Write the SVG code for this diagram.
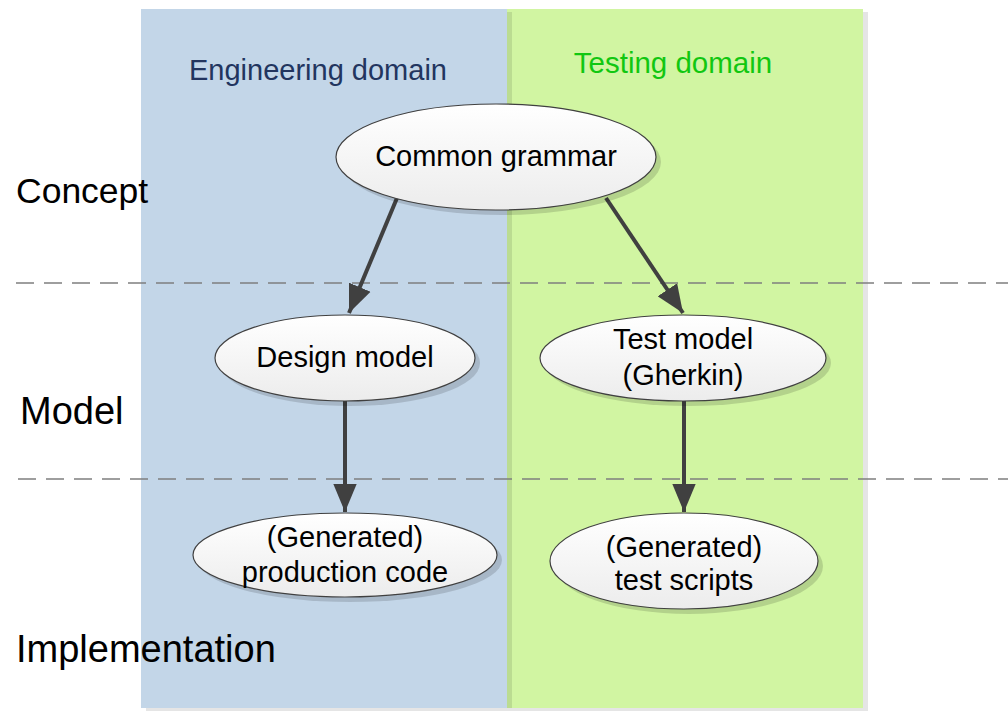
<svg xmlns="http://www.w3.org/2000/svg" width="1008" height="711" viewBox="0 0 1008 711">
  <style>
    .lane-shadow { fill: #000; fill-opacity: 0.1; }
    .lbl { font-family: "Liberation Sans", Arial, sans-serif; fill: #000; }
    .level { font-size: 38px; }
    .node-text { font-size: 29px; text-anchor: middle; }
    .node-shape { fill: url(#nodeFill); stroke: #404040; stroke-width: 1.2; }
    .node-shadow { fill: #000; fill-opacity: 0.14; }
    .divider { stroke: #7f7f7f; stroke-width: 1.5; stroke-dasharray: 18 10; fill: none; }
    .edge { stroke: #404040; stroke-width: 4; fill: none; marker-end: url(#arrow); }
  </style>
  <defs>
    <linearGradient id="nodeFill" x1="0" y1="0" x2="0" y2="1">
      <stop offset="0" stop-color="#ffffff"/>
      <stop offset="1" stop-color="#ececec"/>
    </linearGradient>
    <marker id="arrow" viewBox="0 0 12 10" refX="12" refY="5" markerWidth="7" markerHeight="6" orient="auto" markerUnits="strokeWidth">
      <path d="M0,0 L12,5 L0,10 Z" fill="#404040"/>
    </marker>
  </defs>

  <rect width="1008" height="711" fill="#ffffff"/>

  <!-- swimlanes -->
  <g id="lane-testing">
    <rect class="lane-shadow" x="512" y="12" width="356" height="699"/>
    <rect x="507" y="9" width="356" height="699" fill="#d1f5a2"/>
    <text class="lbl" x="673" y="73" font-size="29.5" text-anchor="middle" style="fill:#11c711">Testing domain</text>
  </g>
  <g id="lane-engineering">
    <rect class="lane-shadow" x="146" y="12" width="366" height="699"/>
    <rect x="141" y="9" width="366" height="699" fill="#c3d6e8"/>
    <text class="lbl" x="318" y="80" font-size="29" text-anchor="middle" style="fill:#22355f">Engineering domain</text>
  </g>

  <!-- level dividers -->
  <g id="dividers">
    <line class="divider" x1="16" y1="283" x2="1008" y2="283"/>
    <line class="divider" x1="18" y1="479" x2="1008" y2="479"/>
  </g>

  <!-- level labels -->
  <g id="levels">
    <text class="lbl level" x="16" y="203" style="font-size:35.5px">Concept</text>
    <text class="lbl level" x="20" y="424">Model</text>
    <text class="lbl level" x="16" y="662">Implementation</text>
  </g>

  <!-- connectors -->
  <g id="connectors">
    <line class="edge" x1="397" y1="198" x2="349" y2="313"/>
    <line class="edge" x1="606" y1="198" x2="683" y2="313"/>
    <line class="edge" x1="345" y1="400" x2="345" y2="512"/>
    <line class="edge" x1="684" y1="400" x2="684" y2="512"/>
  </g>

  <!-- nodes -->
  <g id="node-common-grammar">
    <ellipse class="node-shadow" cx="501" cy="162" rx="160" ry="53"/>
    <ellipse class="node-shape" cx="496" cy="157" rx="160" ry="53"/>
    <text class="lbl node-text" x="496" y="166">Common grammar</text>
  </g>
  <g id="node-design-model">
    <ellipse class="node-shadow" cx="350" cy="363" rx="130" ry="43"/>
    <ellipse class="node-shape" cx="345" cy="358" rx="130" ry="43"/>
    <text class="lbl node-text" x="345" y="367">Design model</text>
  </g>
  <g id="node-test-model">
    <ellipse class="node-shadow" cx="688" cy="363" rx="143" ry="43"/>
    <ellipse class="node-shape" cx="683" cy="358" rx="143" ry="43"/>
    <text class="lbl node-text" x="683" y="349">Test model</text>
    <text class="lbl node-text" x="683" y="385">(Gherkin)</text>
  </g>
  <g id="node-production-code">
    <ellipse class="node-shadow" cx="350" cy="560" rx="152" ry="42"/>
    <ellipse class="node-shape" cx="345" cy="555" rx="152" ry="42"/>
    <text class="lbl node-text" x="345" y="547">(Generated)</text>
    <text class="lbl node-text" x="345" y="582">production code</text>
  </g>
  <g id="node-test-scripts">
    <ellipse class="node-shadow" cx="689" cy="566" rx="134" ry="48"/>
    <ellipse class="node-shape" cx="684" cy="561" rx="134" ry="48"/>
    <text class="lbl node-text" x="684" y="557">(Generated)</text>
    <text class="lbl node-text" x="684" y="590">test scripts</text>
  </g>
</svg>
